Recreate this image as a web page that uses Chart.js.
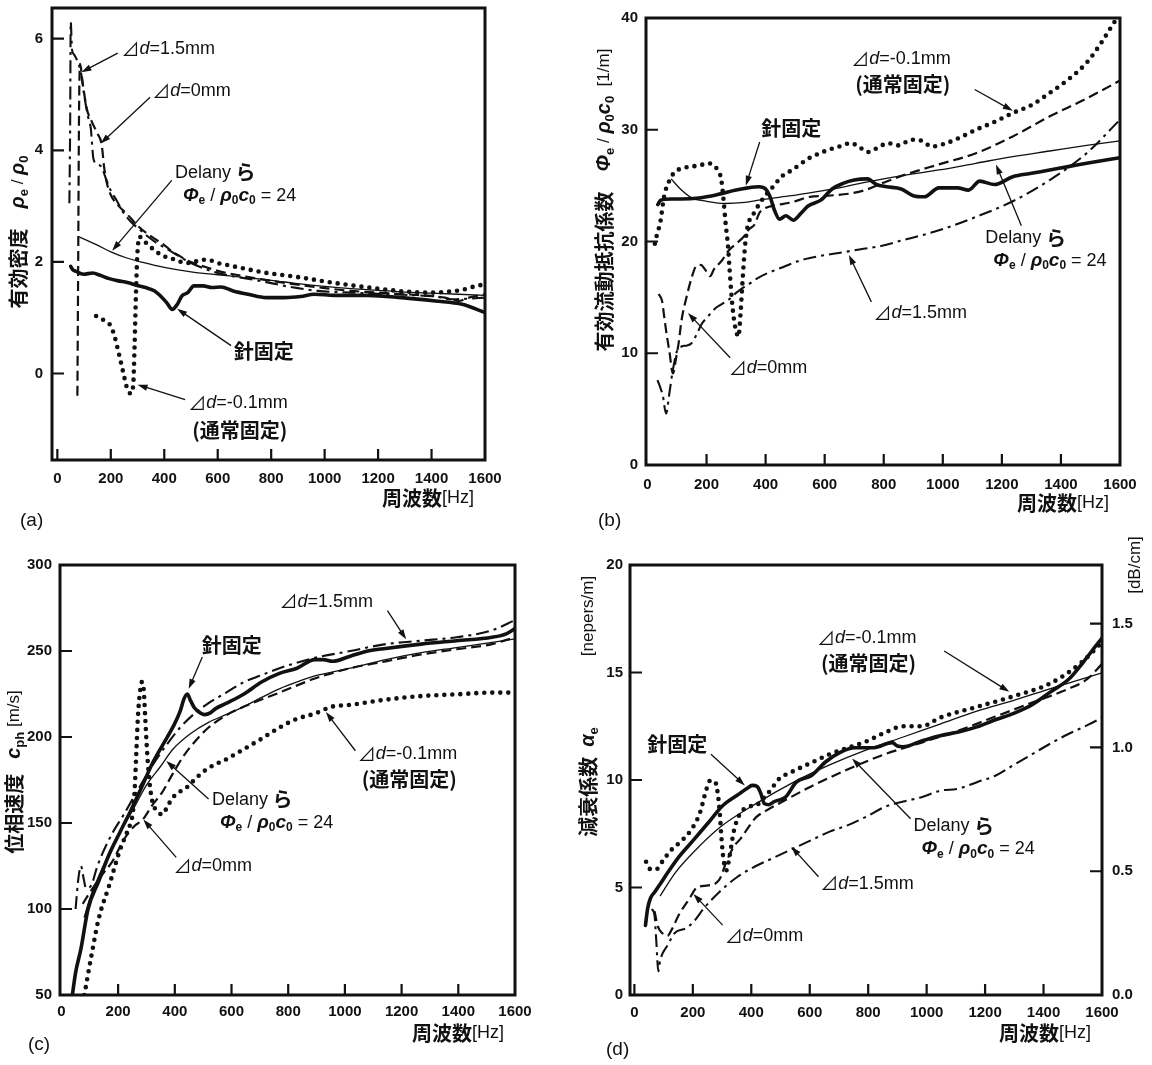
<!DOCTYPE html>
<html lang="ja">
<head>
<meta charset="utf-8">
<title>有効密度・有効流動抵抗係数・位相速度・減衰係数</title>
<script src="https://cdn.jsdelivr.net/npm/chart.js@4.4.1/dist/chart.umd.min.js"></script>
<style>
  body { margin: 0; background: #fff; }
  #page { position: relative; width: 1152px; height: 1065px; overflow: hidden; }
  canvas { position: absolute; }
</style>
</head>
<body>
<div id="page">
  <canvas id="chartA" width="576" height="532" style="left:0;top:0"></canvas>
  <canvas id="chartB" width="576" height="532" style="left:576px;top:0"></canvas>
  <canvas id="chartC" width="576" height="533" style="left:0;top:532px"></canvas>
  <canvas id="chartD" width="576" height="533" style="left:576px;top:532px"></canvas>
</div>
<script>
// ---- data: [frequency Hz, value] ----

// (a) effective density rho_e / rho_0
const aNeedle = [[50,1.92],[58,1.86],[70,1.83],[98,1.78],[132,1.80],[160,1.76],[194,1.70],[228,1.66],[262,1.63],[296,1.58],[330,1.54],[364,1.48],[386,1.39],[409,1.27],[430,1.15],[449,1.24],[466,1.39],[488,1.45],[511,1.57],[545,1.57],[579,1.54],[612,1.55],[658,1.48],[714,1.42],[782,1.36],[850,1.36],[910,1.38],[962,1.42],[1037,1.40],[1163,1.40],[1288,1.36],[1414,1.30],[1515,1.24],[1600,1.09]];
const aDelany = [[82,2.45],[150,2.30],[200,2.18],[260,2.07],[320,1.99],[400,1.90],[500,1.82],[600,1.77],[700,1.72],[800,1.67],[900,1.61],[1000,1.56],[1100,1.52],[1200,1.49],[1300,1.46],[1400,1.44],[1600,1.40]];
const aMinus01 = [[145,1.03],[175,0.95],[200,0.85],[215,0.65],[228,0.40],[245,0.05],[262,-0.28],[275,-0.36],[284,-0.2],[289,0.5],[294,1.4],[299,2.1],[307,2.45],[330,2.35],[371,2.18],[400,2.10],[434,2.05],[470,1.99],[497,1.98],[530,2.03],[559,2.04],[600,1.98],[660,1.92],[720,1.86],[786,1.80],[850,1.76],[911,1.72],[1000,1.65],[1100,1.58],[1200,1.52],[1300,1.47],[1400,1.45],[1470,1.47],[1515,1.50],[1560,1.56],[1600,1.60]];
const aZero = [[75,-0.4],[78,2.0],[81,4.6],[85,5.55],[95,5.2],[110,4.75],[130,4.5],[150,4.3],[166,4.1],[175,3.7],[185,3.42],[200,3.2],[230,3.0],[262,2.85],[300,2.65],[350,2.46],[400,2.3],[432,2.18],[460,2.1],[488,2.02],[520,1.96],[560,1.9],[600,1.84],[700,1.74],[800,1.66],[900,1.59],[1000,1.53],[1100,1.48],[1200,1.45],[1300,1.42],[1400,1.39],[1450,1.36],[1500,1.30],[1540,1.36],[1600,1.42]];
const a15 = [[45,3.05],[48,4.5],[50,6.3],[55,5.8],[62,5.72],[75,5.6],[88,5.4],[100,5.0],[115,4.6],[125,4.4],[135,3.85],[150,3.75],[165,3.7],[185,3.45],[200,3.28],[222,3.1],[245,2.9],[275,2.72],[308,2.58],[340,2.45],[371,2.34],[400,2.26],[434,2.16],[470,2.06],[500,1.98],[550,1.88],[600,1.80],[660,1.74],[723,1.69],[800,1.62],[850,1.57],[900,1.53],[974,1.48],[1100,1.45],[1200,1.43],[1300,1.41],[1414,1.38],[1477,1.33],[1530,1.34],[1600,1.36]];

// (b) effective flow resistance Phi_e / rho_0 c_0 [1/m]
const bNeedle = [[35,23.3],[45,23.7],[80,23.8],[115,23.8],[175,23.9],[237,24.2],[300,24.6],[340,24.8],[378,24.9],[400,24.7],[415,24.0],[430,22.8],[447,22.0],[469,22.3],[494,21.9],[519,22.5],[545,23.2],[587,23.7],[625,24.7],[662,25.2],[700,25.5],[745,25.6],[775,25.1],[810,24.9],[859,24.7],[900,24.1],[937,24.0],[987,24.8],[1050,24.8],[1087,24.6],[1125,25.4],[1175,25.1],[1237,25.8],[1300,26.1],[1362,26.4],[1425,26.7],[1487,27.0],[1600,27.5]];
const bDelany = [[80,25.6],[115,24.6],[150,23.9],[200,23.6],[262,23.4],[330,23.5],[400,23.8],[487,24.1],[560,24.4],[630,24.7],[737,25.3],[862,25.9],[987,26.4],[1112,27.0],[1237,27.6],[1362,28.1],[1487,28.6],[1600,29.0]];
const bMinus01 = [[25,19.8],[31,20.5],[44,21.8],[56,24.0],[75,25.5],[92,26.2],[125,26.6],[175,26.8],[206,27.0],[235,26.5],[250,25.5],[258,23.6],[265,21.5],[272,19.8],[278,17.5],[285,15.0],[292,13.2],[300,12.0],[308,11.5],[315,13.5],[322,16.5],[330,19.5],[338,21.2],[362,22.6],[390,23.8],[425,24.9],[458,25.9],[490,26.4],[516,26.9],[550,27.5],[584,27.9],[612,28.2],[650,28.5],[688,28.8],[720,28.4],[745,28.0],[780,28.4],[814,28.8],[850,28.6],[894,29.1],[930,29.0],[962,28.5],[1000,28.7],[1050,29.2],[1112,30.0],[1175,30.7],[1237,31.5],[1300,32.2],[1362,33.3],[1425,34.5],[1487,36.0],[1537,37.8],[1575,39.4],[1590,40]];
const bZero = [[38,15.3],[50,14.6],[57,13.2],[66,11.5],[74,10.2],[86,8.2],[97,9.6],[106,11.0],[115,12.9],[132,15.0],[150,16.8],[165,17.8],[180,17.9],[195,17.5],[212,16.9],[225,17.5],[252,18.3],[275,19.2],[300,19.8],[325,20.4],[344,21.1],[362,21.5],[380,22.6],[400,23.0],[425,23.2],[487,23.5],[550,24.0],[612,24.1],[687,24.3],[737,24.6],[812,25.4],[887,26.1],[987,26.9],[1112,27.9],[1237,29.4],[1362,31.2],[1487,32.8],[1600,34.4]];
const b15 = [[34,7.6],[45,6.8],[52,6.2],[63,4.6],[74,6.4],[86,8.5],[100,10.2],[115,10.6],[135,10.7],[149,10.9],[165,11.6],[183,12.6],[205,13.3],[229,14.0],[252,14.4],[275,14.8],[300,15.4],[325,15.9],[344,16.2],[372,16.7],[401,17.1],[458,17.7],[516,18.3],[584,18.7],[653,19.0],[722,19.3],[791,19.6],[862,20.1],[987,21.0],[1112,22.2],[1237,23.6],[1362,25.5],[1487,27.9],[1600,30.9]];

// (c) phase velocity c_ph [m/s]
const cNeedle = [[37,48],[50,63],[69,77],[94,100],[131,116],[169,132],[206,144.5],[244,157],[281,170],[319,184],[356,195],[394,206],[419,215],[432,222],[444,225],[456,221],[469,217],[490,214],[506,213],[525,214],[544,216.5],[581,219.5],[644,225],[706,232],[769,237],[831,240],[894,245],[925,245],[956,244],[1019,247],[1081,250],[1144,251.5],[1269,254],[1394,256],[1519,258],[1569,260],[1600,263]];
const cDelany = [[80,95],[100,106],[150,126],[200,143],[250,157],[300,172],[350,183],[394,193],[456,202],[519,208.5],[581,213],[644,217.7],[706,223],[769,228],[831,232],[894,235.5],[1019,240],[1144,245],[1269,249],[1394,252],[1519,255],[1600,257]];
const cMinus01 = [[81,50],[106,73],[131,94],[169,114],[206,134],[230,144],[244,150],[252,156],[258,168],[264,190],[270,212],[277,226],[284,232],[290,228],[296,210],[302,192],[310,175],[320,163],[337,157],[356,155],[375,160],[394,165],[444,171],[481,177],[519,182],[581,187],[644,193],[706,199],[769,205.5],[831,210.6],[894,213.6],[956,217.7],[1019,218.7],[1144,221.7],[1269,223.8],[1394,224.8],[1519,225.8],[1600,225.8]];
const cZero = [[75,103],[94,108],[110,112],[144,120],[181,128],[219,140],[256,148],[287,152],[319,160],[356,168],[394,179],[431,189],[469,197],[519,205.5],[581,212.6],[644,217.7],[769,225.8],[894,234],[1019,240],[1144,244],[1269,248],[1394,251],[1519,254],[1600,258]];
const c15 = [[50,100],[60,118],[69,125],[78,118],[87,112],[106,114],[125,124],[144,132],[181,144.5],[219,154.7],[269,169],[319,183],[369,195],[419,205.5],[469,213.6],[519,219.7],[581,225.8],[644,232],[706,236],[769,240],[894,246],[1019,250],[1144,254],[1269,256],[1394,258],[1519,262],[1600,268]];

// (d) attenuation alpha_e [nepers/m]
const dNeedle = [[38,3.24],[45,4.0],[55,4.5],[69,4.78],[90,5.2],[113,5.67],[151,6.4],[202,7.2],[252,8.0],[302,8.8],[353,9.3],[385,9.6],[403,9.75],[420,9.7],[432,9.4],[445,8.9],[460,8.85],[479,9.0],[517,9.2],[554,9.9],[605,10.2],[655,10.85],[706,11.3],[756,11.5],[819,11.5],[882,11.74],[900,11.58],[920,11.55],[983,11.82],[1046,12.06],[1109,12.23],[1172,12.47],[1235,12.8],[1298,13.1],[1361,13.5],[1424,14.1],[1487,14.7],[1537,15.5],[1588,16.4],[1600,16.6]];
const dDelany = [[88,4.6],[139,5.67],[202,6.64],[290,7.77],[416,8.9],[542,9.88],[668,10.7],[794,11.4],[920,12.0],[1046,12.6],[1172,13.2],[1298,13.7],[1424,14.25],[1600,14.98]];
const dMinus01 = [[40,6.2],[55,5.85],[75,5.85],[100,6.3],[130,6.8],[164,7.2],[200,7.8],[225,8.5],[245,9.5],[260,9.98],[277,9.9],[285,9.4],[292,8.5],[298,7.3],[305,6.3],[315,5.8],[325,6.4],[340,7.6],[360,8.4],[390,8.75],[420,8.85],[445,9.2],[470,9.6],[491,10.0],[542,10.4],[605,10.8],[668,11.2],[731,11.5],[794,11.8],[857,12.2],[920,12.5],[983,12.5],[1046,12.9],[1172,13.4],[1298,13.9],[1424,14.5],[1524,15.4],[1600,16.4]];
const dZero = [[69,3.9],[80,3.2],[94,2.9],[113,2.75],[130,3.1],[151,3.7],[189,4.5],[214,5.0],[252,5.1],[290,5.35],[315,6.2],[340,6.9],[365,7.3],[390,7.8],[416,8.26],[454,8.6],[517,9.07],[605,9.7],[731,10.5],[857,11.2],[983,11.74],[1109,12.3],[1235,12.95],[1361,13.6],[1487,14.25],[1550,14.7],[1600,15.4]];
const d15 = [[60,4.0],[69,3.7],[75,2.5],[82,1.1],[88,1.6],[113,2.3],[139,2.9],[176,3.1],[202,3.4],[239,4.05],[290,4.78],[353,5.5],[416,6.0],[479,6.4],[542,6.8],[605,7.2],[668,7.6],[731,7.9],[794,8.3],[857,8.75],[920,9.0],[983,9.2],[1046,9.5],[1109,9.6],[1172,9.9],[1235,10.2],[1298,10.7],[1361,11.2],[1424,11.7],[1487,12.15],[1550,12.55],[1600,12.9]];

// tick values
const freqTicks = [0, 200, 400, 600, 800, 1000, 1200, 1400, 1600];
const aTicks = [0, 2, 4, 6];
const bTicks = [0, 10, 20, 30, 40];
const cTicks = [50, 100, 150, 200, 250, 300];
const dTicks = [0, 5, 10, 15, 20];
const dRightTicks = [0, 0.5, 1.0, 1.5];
const NEPER_TO_DB_CM = 0.0868589; // 1 neper/m in dB/cm

// ---- text helpers ----
const INK = '#111';
const LAT = '"Liberation Sans", Arial, sans-serif';
const JP = '"Noto Sans CJK JP", sans-serif';
const KIND = {
  n:   { font: `18px ${LAT}` },
  jp:  { font: `bold 20px ${JP}` },
  tri: { font: `18px ${JP}` },
  it:  { font: `italic 18px ${LAT}` },
  gi:  { font: `italic bold 19px ${LAT}` },
  sub: { font: `bold 12px ${LAT}`, dy: 5 },
  ax:  { font: `bold 20px ${JP}` },
  axg: { font: `italic bold 20px ${LAT}` },
  axs: { font: `bold 13px ${LAT}`, dy: 6 },
  axn: { font: `17px ${LAT}` },
  tag: { font: `19px ${LAT}` }
};

const dLabel = v => [['⊿', 'tri'], ['d', 'it'], ['=' + v + 'mm', 'n']];
const needleLabel = [['針固定', 'jp']];
const normalLabel = [['(通常固定)', 'jp']];
const delany1 = [['Delany', 'n'], [' ら', 'jp']];
const delany2 = [['Φ', 'gi'], ['e', 'sub'], [' / ', 'n'], ['ρ', 'gi'], ['0', 'sub'], ['c', 'gi'], ['0', 'sub'], [' = 24', 'n']];
const freqTitle = [['周波数', 'ax'], ['[Hz]', 'n']];

function richWidth(ctx, segs) {
  let w = 0;
  for (const [t, k] of segs) { ctx.font = KIND[k].font; w += ctx.measureText(t).width; }
  return w;
}
function drawRich(ctx, segs, x, y) {
  for (const [t, k] of segs) {
    ctx.font = KIND[k].font;
    ctx.fillText(t, x, y + (KIND[k].dy || 0));
    x += ctx.measureText(t).width;
  }
}
function drawArrow(ctx, x1, y1, x2, y2) {
  const ang = Math.atan2(y2 - y1, x2 - x1);
  const c = Math.cos(ang), s = Math.sin(ang);
  ctx.lineWidth = 1.3;
  ctx.beginPath(); ctx.moveTo(x1, y1); ctx.lineTo(x2 - 6 * c, y2 - 6 * s); ctx.stroke();
  ctx.beginPath();
  ctx.moveTo(x2, y2);
  ctx.lineTo(x2 - 10 * c + 3.2 * s, y2 - 10 * s - 3.2 * c);
  ctx.lineTo(x2 - 10 * c - 3.2 * s, y2 - 10 * s + 3.2 * c);
  ctx.closePath(); ctx.fill();
}

// frame, inward ticks, notes and titles for one panel
function figurePlugin(P) {
  return {
    id: 'figure',
    afterDatasetsDraw(chart) {
      const { ctx, chartArea: a, scales } = chart;
      const x = scales.x, y = scales.y, y2 = scales.y2;
      ctx.save();
      ctx.strokeStyle = INK; ctx.fillStyle = INK;
      ctx.lineWidth = 3;
      ctx.strokeRect(a.left, a.top, a.right - a.left, a.bottom - a.top);
      ctx.lineWidth = 2.2;
      ctx.beginPath();
      x.ticks.forEach(t => {
        const px = x.getPixelForValue(t.value);
        if (px > a.left + 3 && px < a.right - 3) { ctx.moveTo(px, a.bottom); ctx.lineTo(px, a.bottom - 11); }
      });
      y.ticks.forEach(t => {
        const py = y.getPixelForValue(t.value);
        if (py > a.top + 3 && py < a.bottom - 3) { ctx.moveTo(a.left, py); ctx.lineTo(a.left + 12, py); }
      });
      if (y2) y2.ticks.forEach(t => {
        const py = y2.getPixelForValue(t.value);
        if (py > a.top + 3 && py < a.bottom - 3) { ctx.moveTo(a.right, py); ctx.lineTo(a.right - 12, py); }
      });
      ctx.stroke();

      ctx.textBaseline = 'middle';
      ctx.textAlign = 'left';
      P.notes.forEach(n => {
        const tx = x.getPixelForValue(n.at[0]), ty = y.getPixelForValue(n.at[1]);
        n.lines.forEach((segs, i) => drawRich(ctx, segs, tx + i * (n.dx2 || 0), ty + i * (n.dy2 || 0)));
        const [p, q] = n.arrow;
        drawArrow(ctx, x.getPixelForValue(p[0]), y.getPixelForValue(p[1]),
                       x.getPixelForValue(q[0]), y.getPixelForValue(q[1]));
      });

      P.yTitles.forEach(t => {
        ctx.save();
        ctx.translate(t.x, t.y);
        ctx.rotate(-Math.PI / 2);
        drawRich(ctx, t.segs, -richWidth(ctx, t.segs) / 2, 0);
        ctx.restore();
      });
      drawRich(ctx, freqTitle, a.right - 11 - richWidth(ctx, freqTitle), a.bottom + 38);
      drawRich(ctx, [[P.tag, 'tag']], P.tagAt[0], P.tagAt[1]);
      ctx.restore();
    }
  };
}

function lineSet(label, data, kind) {
  const base = { label, data: data.map(([f, v]) => ({ x: f, y: v })), borderColor: INK, pointRadius: 0,
                 fill: false, cubicInterpolationMode: 'monotone', borderJoinStyle: 'round' };
  if (kind === 'needle') return { ...base, borderWidth: 3.6, borderCapStyle: 'round' };
  if (kind === 'delany') return { ...base, borderWidth: 1.3 };
  if (kind === 'dot') return { ...base, borderWidth: 4.6, borderDash: [0, 8], borderCapStyle: 'round' };
  if (kind === 'dash') return { ...base, borderWidth: 2.2, borderDash: [10, 5] };
  return { ...base, borderWidth: 2.1, borderDash: [13, 5, 3, 5] };
}

const fixedTicks = values => scale => { scale.ticks = values.map(v => ({ value: v })); };

function makePanel(canvasId, P, series) {
  const canvas = document.getElementById(canvasId);
  const W = canvas.width, H = canvas.height;
  const yw = 40, xh = 40, y2w = P.y2 ? 40 : 0;
  const tickFont = { family: LAT, size: 15, weight: 'bold' };
  const scales = {
    x: {
      type: 'linear', min: P.xmin, max: 1600,
      grid: { display: false, drawTicks: false }, border: { display: false },
      afterBuildTicks: fixedTicks(freqTicks),
      ticks: { padding: P.xpad, font: tickFont, color: INK, maxRotation: 0, autoSkip: false, callback: v => String(v) },
      afterFit(s) { s.height = xh; s.paddingLeft = 0; s.paddingRight = 0; }
    },
    y: {
      type: 'linear', position: 'left', min: P.ymin, max: P.ymax,
      grid: { display: false, drawTicks: false }, border: { display: false },
      afterBuildTicks: fixedTicks(P.yTicks),
      ticks: { padding: P.ypad, font: tickFont, color: INK, autoSkip: false, callback: v => String(v) },
      afterFit(s) { s.width = yw; s.paddingTop = 0; s.paddingBottom = 0; }
    }
  };
  if (P.y2) {
    scales.y2 = {
      type: 'linear', position: 'right', min: P.ymin * NEPER_TO_DB_CM, max: P.ymax * NEPER_TO_DB_CM,
      grid: { display: false, drawTicks: false }, border: { display: false },
      afterBuildTicks: fixedTicks(dRightTicks),
      ticks: { padding: 10, font: tickFont, color: INK, autoSkip: false, callback: v => v.toFixed(1) },
      afterFit(s) { s.width = y2w; s.paddingTop = 0; s.paddingBottom = 0; }
    };
  }
  return new Chart(canvas, {
    type: 'line',
    data: {
      datasets: [
        lineSet('針固定', series.needle, 'needle'),
        lineSet('Delanyら', series.delany, 'delany'),
        lineSet('Δd=-0.1mm', series.minus01, 'dot'),
        lineSet('Δd=0mm', series.zero, 'dash'),
        lineSet('Δd=1.5mm', series.d15, 'dashdot')
      ]
    },
    options: {
      responsive: false, animation: false, devicePixelRatio: 1, events: [],
      layout: { padding: { left: P.area.l - yw, top: P.area.t, right: W - P.area.r - y2w, bottom: H - P.area.b - xh } },
      plugins: { legend: { display: false }, tooltip: { enabled: false } },
      scales
    },
    plugins: [figurePlugin(P)]
  });
}

const yTitleA = [['有効密度', 'ax'], ['    ', 'n'], ['ρ', 'axg'], ['e', 'axs'], [' / ', 'axn'], ['ρ', 'axg'], ['0', 'axs']];
const yTitleB = [['有効流動抵抗係数', 'ax'], ['    ', 'n'], ['Φ', 'axg'], ['e', 'axs'], [' / ', 'axn'], ['ρ', 'axg'], ['0', 'axs'], ['c', 'axg'], ['0', 'axs'], ['  [1/m]', 'axn']];
const yTitleC = [['位相速度', 'ax'], ['   ', 'n'], ['c', 'axg'], ['ph', 'axs'], [' [m/s]', 'axn']];
const yTitleD = [['減衰係数', 'ax'], ['  ', 'n'], ['α', 'axg'], ['e', 'axs']];

document.addEventListener('DOMContentLoaded', () => {
  makePanel('chartA', {
    area: { l: 52, t: 8, r: 485, b: 460 }, xmin: -20, ymin: -1.55, ymax: 6.55, yTicks: aTicks, xpad: 10, ypad: 9,
    tag: '(a)', tagAt: [20, 521],
    yTitles: [{ x: 18, y: 232, segs: yTitleA }],
    notes: [
      { lines: [dLabel('1.5')], at: [240, 5.81], arrow: [[226, 5.74], [90, 5.4]] },
      { lines: [dLabel('0')], at: [355, 5.06], arrow: [[347, 4.95], [162, 4.12]] },
      { lines: [delany1, delany2], at: [440, 3.6], dx2: 8, dy2: 23, arrow: [[428, 3.46], [205, 2.2]] },
      { lines: [needleLabel], at: [660, 0.4], arrow: [[650, 0.5], [448, 1.16]] },
      { lines: [dLabel('-0.1'), normalLabel], at: [490, -0.53], dx2: 4, dy2: 27, arrow: [[478, -0.47], [300, -0.2]] }
    ]
  }, { needle: aNeedle, delany: aDelany, minus01: aMinus01, zero: aZero, d15: a15 });

  makePanel('chartB', {
    area: { l: 70, t: 18, r: 544, b: 465 }, xmin: -5, ymin: 0, ymax: 40, yTicks: bTicks, xpad: 11, ypad: 8,
    tag: '(b)', tagAt: [22, 521],
    yTitles: [{ x: 28, y: 200, segs: yTitleB }],
    notes: [
      { lines: [dLabel('-0.1'), normalLabel], at: [690, 36.3], dx2: 4, dy2: 25, arrow: [[1108, 33.6], [1237, 31.7]] },
      { lines: [needleLabel], at: [385, 30.1], arrow: [[380, 28.9], [333, 25.0]] },
      { lines: [delany1, delany2], at: [1144, 20.3], dx2: 8, dy2: 23, arrow: [[1266, 21.4], [1180, 26.9]] },
      { lines: [dLabel('1.5')], at: [765, 13.6], arrow: [[758, 14.6], [682, 18.8]] },
      { lines: [dLabel('0')], at: [275, 8.66], arrow: [[280, 9.6], [137, 13.6]] }
    ]
  }, { needle: bNeedle, delany: bDelany, minus01: bMinus01, zero: bZero, d15: b15 });

  makePanel('chartC', {
    area: { l: 60, t: 33, r: 515, b: 463 }, xmin: -5, ymin: 50, ymax: 300, yTicks: cTicks, xpad: 8, ypad: 8,
    tag: '(c)', tagAt: [28, 513],
    yTitles: [{ x: 14, y: 240, segs: yTitleC }],
    notes: [
      { lines: [dLabel('1.5')], at: [769, 278.7], arrow: [[1150, 273.5], [1216, 256.8]] },
      { lines: [needleLabel], at: [495, 253], arrow: [[497, 246.5], [449, 228]] },
      { lines: [delany1, delany2], at: [531, 163.5], dx2: 8, dy2: 23, arrow: [[519, 164], [370, 186]] },
      { lines: [dLabel('-0.1'), normalLabel], at: [1045, 190], dx2: 4, dy2: 25, arrow: [[1037, 192], [933, 214.5]] },
      { lines: [dLabel('0')], at: [395, 125], arrow: [[405, 130], [289, 152]] }
    ]
  }, { needle: cNeedle, delany: cDelany, minus01: cMinus01, zero: cZero, d15: c15 });

  makePanel('chartD', {
    area: { l: 54, t: 33, r: 526, b: 463 }, xmin: -15, ymin: 0, ymax: 20, yTicks: dTicks, xpad: 9, ypad: 7, y2: true,
    tag: '(d)', tagAt: [30, 518],
    yTitles: [
      { x: 12, y: 250, segs: yTitleD },
      { x: 12, y: 84, segs: [['[nepers/m]', 'axn']] },
      { x: 559, y: 33, segs: [['[dB/cm]', 'axn']] }
    ],
    notes: [
      { lines: [dLabel('-0.1'), normalLabel], at: [625, 16.6], dx2: 4, dy2: 25, arrow: [[1060, 16.0], [1283, 14.1]] },
      { lines: [needleLabel], at: [44, 11.66], arrow: [[262, 11.2], [378, 9.75]] },
      { lines: [delany1, delany2], at: [955, 7.85], dx2: 8, dy2: 23, arrow: [[945, 8.2], [745, 11.0]] },
      { lines: [dLabel('1.5')], at: [636, 5.18], arrow: [[630, 5.5], [537, 6.9]] },
      { lines: [dLabel('0')], at: [309, 2.75], arrow: [[302, 3.25], [202, 4.7]] }
    ]
  }, { needle: dNeedle, delany: dDelany, minus01: dMinus01, zero: dZero, d15: d15 });
});
</script>
</body>
</html>
